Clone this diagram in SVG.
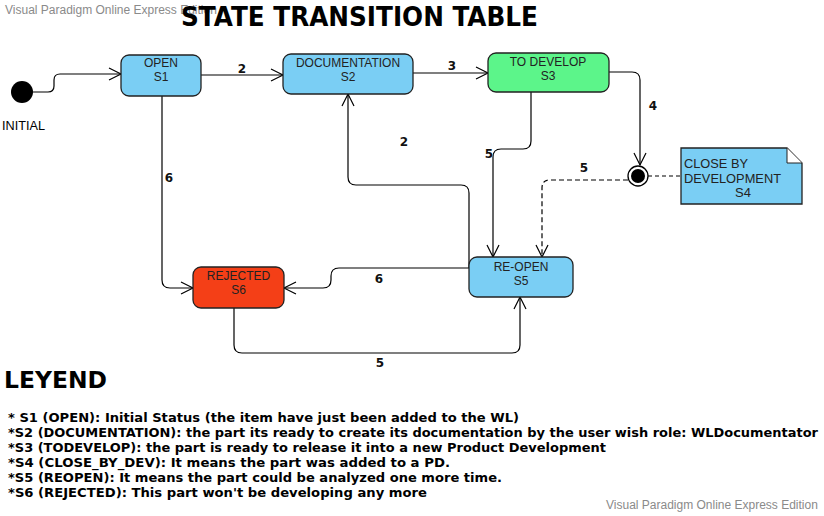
<svg xmlns="http://www.w3.org/2000/svg" width="824" height="516" viewBox="0 0 824 516">
<defs>
<style>
.wm{font-family:"Liberation Sans",Arial,sans-serif;font-size:12px;fill:#8a8a8a}
.title{font-family:"DejaVu Sans",Verdana,sans-serif;font-weight:bold;fill:#000}
.st{stroke:#222;stroke-width:1.3}
.blue{fill:#7acef4}
.green{fill:#5cf58a}
.red{fill:#f43f17}
.nt{font-family:"Liberation Sans",Arial,sans-serif;font-size:12px;fill:#222;text-anchor:middle}
.lbl{font-family:"DejaVu Sans",Verdana,sans-serif;font-size:12px;font-weight:bold;fill:#111;text-anchor:middle}
.conn{fill:none;stroke:#000;stroke-width:1.2}
.dash{stroke-dasharray:5,3}
.leg{font-family:"DejaVu Sans",Verdana,sans-serif;font-size:12.5px;font-weight:bold;fill:#000}
.nn{font-family:"Liberation Sans",Arial,sans-serif;font-size:13px;fill:#222}
</style>
<marker id="arr" markerUnits="userSpaceOnUse" markerWidth="16" markerHeight="16" viewBox="-14 -8 16 16" refX="0" refY="0" orient="auto">
<path d="M-12,-6 L0,0 L-12,6" fill="none" stroke="#000" stroke-width="1.2"/>
</marker>
</defs>
<rect width="824" height="516" fill="#fff"/>
<text class="wm" x="5" y="14">Visual Paradigm Online Express Edition</text>
<text class="wm" x="606" y="509">Visual Paradigm Online Express Edition</text>
<text class="title" x="181" y="26" font-size="26" textLength="357" lengthAdjust="spacingAndGlyphs">STATE TRANSITION TABLE</text>

<g id="connectors">
<path class="conn" d="M33,92 H48 Q54,92 54,86 V80 Q54,74 60,74 H121" marker-end="url(#arr)"/>
<path class="conn" d="M201,75 H283" marker-end="url(#arr)"/>
<path class="conn" d="M413,73 H488" marker-end="url(#arr)"/>
<path class="conn" d="M609,72 H632 Q640,72 640,80 V165" marker-end="url(#arr)"/>
<path class="conn" d="M531,92 V141 Q531,149 523,149 H501 Q493,149 493,157 V257" marker-end="url(#arr)"/>
<path class="conn" d="M469,268 V193 Q469,185 461,185 H356 Q348,185 348,177 V94" marker-end="url(#arr)"/>
<path class="conn" d="M162,96 V280 Q162,288 170,288 H193" marker-end="url(#arr)"/>
<path class="conn" d="M469,268 H339 Q331,268 331,276 V280 Q331,288 323,288 H284" marker-end="url(#arr)"/>
<path class="conn" d="M234,308 V345 Q234,353 242,353 H512 Q520,353 520,345 V297" marker-end="url(#arr)"/>
<path class="conn dash" d="M628,180 H550 Q542,180 542,188 V257" marker-end="url(#arr)"/>
<path class="conn" d="M648,176 H681" stroke-dasharray="4,3" stroke-width="2"/>
<text class="lbl" x="242" y="73">2</text>
<text class="lbl" x="452" y="70">3</text>
<text class="lbl" x="653" y="110">4</text>
<text class="lbl" x="489" y="158">5</text>
<text class="lbl" x="404" y="146">2</text>
<text class="lbl" x="169" y="182">6</text>
<text class="lbl" x="584" y="172">5</text>
<text class="lbl" x="379" y="283">6</text>
<text class="lbl" x="380" y="367">5</text>
</g>

<g id="initial">
<circle cx="22" cy="92" r="11" fill="#000"/>
<text x="2" y="130" font-family="Liberation Sans,Arial,sans-serif" font-size="13" fill="#000" textLength="43" lengthAdjust="spacingAndGlyphs">INITIAL</text>
</g>

<g id="s1">
<rect class="st blue" x="121" y="55" width="80" height="41" rx="8"/>
<text class="nt" x="161" y="67">OPEN</text>
<text class="nt" x="161" y="81">S1</text>
</g>

<g id="s2">
<rect class="st blue" x="283" y="54" width="130" height="40" rx="8"/>
<text class="nt" x="348" y="67">DOCUMENTATION</text>
<text class="nt" x="348" y="81">S2</text>
</g>

<g id="s3">
<rect class="st green" x="488" y="53" width="121" height="39" rx="8"/>
<text class="nt" x="548" y="66">TO DEVELOP</text>
<text class="nt" x="548" y="80">S3</text>
</g>

<g id="final">
<circle cx="638" cy="176" r="10" fill="#fff" stroke="#000" stroke-width="1.3"/>
<circle cx="638" cy="176" r="7" fill="#000"/>
</g>

<g id="s4">
<path class="st blue" d="M681,148 H787 L802,163 V204 H681 Z" stroke-width="1.8"/>
<path d="M787,148 V163 H802" fill="#fff" stroke="#222" stroke-width="1"/>
<text class="nn" x="684" y="168" textLength="64" lengthAdjust="spacingAndGlyphs">CLOSE BY</text>
<text class="nn" x="684" y="183" textLength="97" lengthAdjust="spacingAndGlyphs">DEVELOPMENT</text>
<text class="nn" x="743" y="197" text-anchor="middle">S4</text>
</g>

<g id="s5">
<rect class="st blue" x="469" y="257" width="104" height="40" rx="8"/>
<text class="nt" x="521" y="271">RE-OPEN</text>
<text class="nt" x="521" y="285">S5</text>
</g>

<g id="s6">
<rect class="st red" x="193" y="267" width="91" height="41" rx="8"/>
<text class="nt" x="238.5" y="280">REJECTED</text>
<text class="nt" x="238.5" y="294">S6</text>
</g>

<g id="legend">
<text class="title" x="4" y="388" font-size="23" textLength="103" lengthAdjust="spacingAndGlyphs">LEYEND</text>
<text class="leg" x="8" y="422" textLength="511" lengthAdjust="spacingAndGlyphs">* S1 (OPEN): Initial Status (the item have just been added to the WL)</text>
<text class="leg" x="8" y="437" textLength="810" lengthAdjust="spacingAndGlyphs">*S2 (DOCUMENTATION): the part its ready to create its documentation by the user wish role: WLDocumentator</text>
<text class="leg" x="8" y="452" textLength="598" lengthAdjust="spacingAndGlyphs">*S3 (TODEVELOP): the part is ready to release it into a new Product Development</text>
<text class="leg" x="8" y="467" textLength="442" lengthAdjust="spacingAndGlyphs">*S4 (CLOSE_BY_DEV): It means the part was added to a PD.</text>
<text class="leg" x="8" y="482" textLength="494" lengthAdjust="spacingAndGlyphs">*S5 (REOPEN): It means the part could be analyzed one more time.</text>
<text class="leg" x="8" y="497" textLength="419" lengthAdjust="spacingAndGlyphs">*S6 (REJECTED): This part won't be developing any more</text>
</g>
</svg>
